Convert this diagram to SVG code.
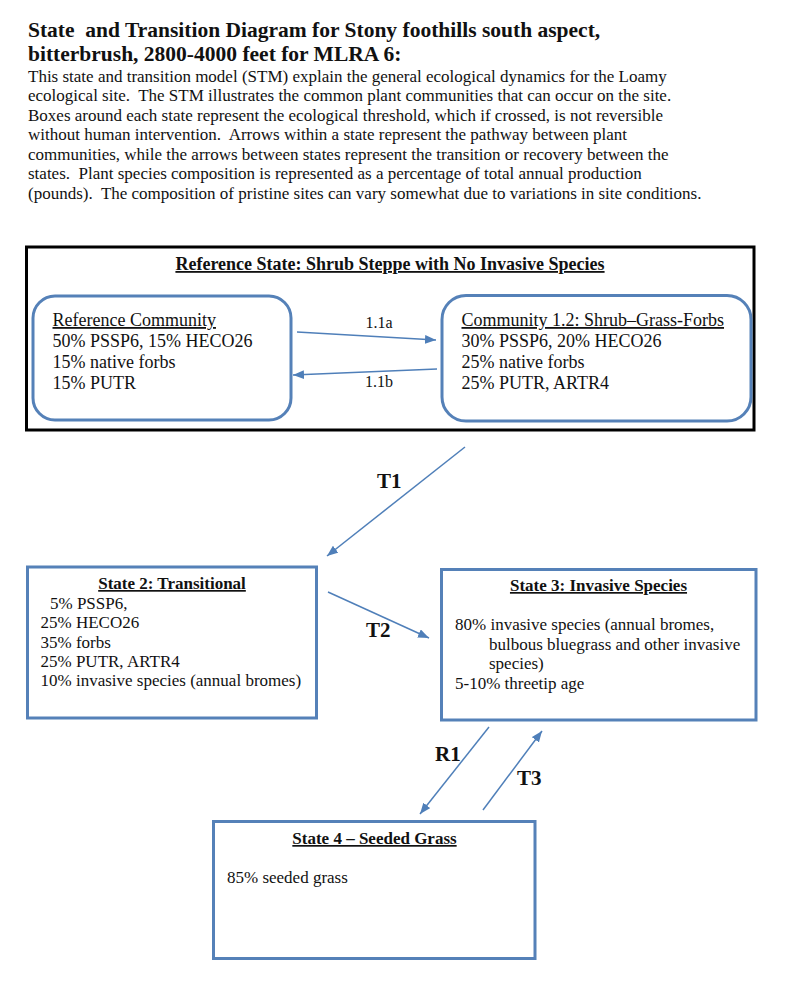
<svg xmlns="http://www.w3.org/2000/svg" width="800" height="989" viewBox="0 0 800 989" xml:space="preserve">
<style>
text{font-family:"Liberation Serif","Times New Roman",serif;fill:#111;white-space:pre}
.h{font-weight:bold;font-size:21.5px}
.p{font-size:17px}
.c{font-size:18px}
.b{font-weight:bold;font-size:17px}
.u{text-decoration:underline}
.lbl{font-size:16px}
.t{font-weight:bold;font-size:21px}
.box{fill:#fff;stroke:#5581b8;stroke-width:3}
.con line{stroke:#4f7fb9;stroke-width:1.5;marker-end:url(#ah)}
</style>
<defs>
<marker id="ah" viewBox="0 0 10 8" refX="10" refY="4" markerWidth="11" markerHeight="9" markerUnits="userSpaceOnUse" orient="auto">
<path d="M0,0 L10,4 L0,8 Z" fill="#4f7fb9"/>
</marker>
</defs>
<rect width="800" height="989" fill="#fff"/>
<g id="header">
<text class="h" x="28" y="37">State  and Transition Diagram for Stony foothills south aspect,</text>
<text class="h" x="28" y="61">bitterbrush, 2800-4000 feet for MLRA 6:</text>
<text class="p" x="28" y="81.5">This state and transition model (STM) explain the general ecological dynamics for the Loamy</text>
<text class="p" x="28" y="101">ecological site.  The STM illustrates the common plant communities that can occur on the site.</text>
<text class="p" x="28" y="120.5">Boxes around each state represent the ecological threshold, which if crossed, is not reversible</text>
<text class="p" x="28" y="140">without human intervention.  Arrows within a state represent the pathway between plant</text>
<text class="p" x="28" y="159.5">communities, while the arrows between states represent the transition or recovery between the</text>
<text class="p" x="28" y="179">states.  Plant species composition is represented as a percentage of total annual production</text>
<text class="p" x="28" y="198.5">(pounds).  The composition of pristine sites can vary somewhat due to variations in site conditions.</text>
</g>
<g id="reference-state">
<rect x="26.5" y="247" width="727.5" height="183" fill="#fff" stroke="#000" stroke-width="3"/>
<text class="c u" x="390" y="270" font-weight="bold" text-anchor="middle">Reference State: Shrub Steppe with No Invasive Species</text>
</g>
<g id="reference-community">
<rect class="box" x="33" y="296" width="258" height="124" rx="22"/>
<text class="c u" x="52.5" y="326">Reference Community</text>
<text class="c" x="52.5" y="347">50% PSSP6, 15% HECO26</text>
<text class="c" x="52.5" y="368">15% native forbs</text>
<text class="c" x="52.5" y="389">15% PUTR</text>
</g>
<g id="community-1-2">
<rect class="box" x="442" y="295.5" width="309" height="125.5" rx="24"/>
<text class="c u" x="461.5" y="326">Community 1.2: Shrub–Grass-Forbs</text>
<text class="c" x="461.5" y="347">30% PSSP6, 20% HECO26</text>
<text class="c" x="461.5" y="368">25% native forbs</text>
<text class="c" x="461.5" y="389">25% PUTR, ARTR4</text>
</g>
<g id="state-2">
<rect class="box" x="27.5" y="567" width="289" height="151"/>
<text class="b u" x="172" y="589" text-anchor="middle">State 2: Transitional</text>
<text class="p" x="50" y="608.5">5% PSSP6,</text>
<text class="p" x="40.5" y="628">25% HECO26</text>
<text class="p" x="40.5" y="647.5">35% forbs</text>
<text class="p" x="40.5" y="667">25% PUTR, ARTR4</text>
<text class="p" x="40.5" y="686">10% invasive species (annual bromes)</text>
</g>
<g id="state-3">
<rect class="box" x="441.5" y="569.5" width="314.5" height="150.5"/>
<text class="b u" x="598.5" y="591" text-anchor="middle">State 3: Invasive Species</text>
<text class="p" x="455" y="630">80% invasive species (annual bromes,</text>
<text class="p" x="489" y="649.5">bulbous bluegrass and other invasive</text>
<text class="p" x="489" y="669">species)</text>
<text class="p" x="455" y="688.5">5-10% threetip age</text>
</g>
<g id="state-4">
<rect class="box" x="213.5" y="821.5" width="321.5" height="137"/>
<text class="b u" x="374.5" y="844" text-anchor="middle">State 4 – Seeded Grass</text>
<text class="p" x="227" y="883">85% seeded grass</text>
</g>
<g id="connectors" class="con">
<line x1="297" y1="332" x2="436" y2="340"/>
<line x1="437" y1="369" x2="293" y2="375"/>
<line x1="465" y1="447" x2="327" y2="556"/>
<line x1="328" y1="592" x2="429" y2="638"/>
<line x1="489" y1="727" x2="420" y2="814"/>
<line x1="483" y1="810" x2="542" y2="731"/>
</g>
<g id="labels">
<text class="lbl" x="379" y="328" text-anchor="middle">1.1a</text>
<text class="lbl" x="379" y="387" text-anchor="middle">1.1b</text>
<text class="t" x="377" y="488">T1</text>
<text class="t" x="366" y="636.5">T2</text>
<text class="t" x="435" y="761">R1</text>
<text class="t" x="517" y="785">T3</text>
</g>
</svg>
